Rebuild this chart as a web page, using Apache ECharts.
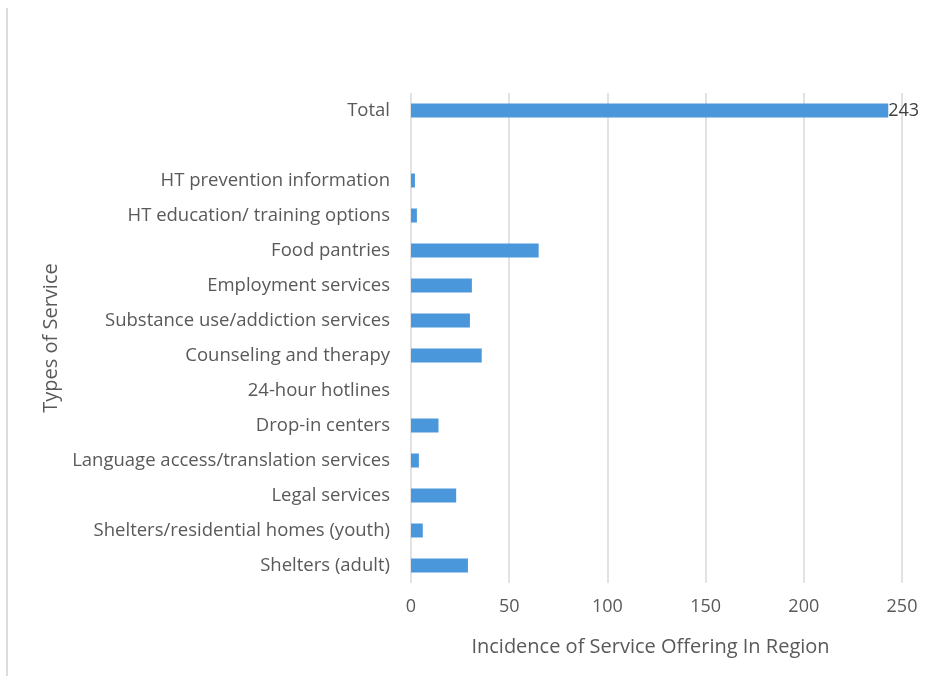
<!DOCTYPE html>
<html>
<head>
<meta charset="utf-8">
<script src="https://cdn.jsdelivr.net/npm/echarts@6/dist/echarts.min.js"></script>
<style>
  html, body { margin: 0; padding: 0; background: #fff; }
  #chart { width: 939px; height: 676px; }
</style>
</head>
<body>
<div id="chart"></div>
<script>
// service types, bottom to top (blank row sits between the services and Total)
const categories = [
  'Shelters (adult)',
  'Shelters/residential homes (youth)',
  'Legal services',
  'Language access/translation services',
  'Drop-in centers',
  '24-hour hotlines',
  'Counseling and therapy',
  'Substance use/addiction services',
  'Employment services',
  'Food pantries',
  'HT education/ training options',
  'HT prevention information',
  '',
  'Total'
];
const counts = [29, 6, 23, 4, 14, 0, 36, 30, 31, 65, 3, 2, null, 243];
const xTicks = [0, 50, 100, 150, 200, 250];

const chart = echarts.init(document.getElementById('chart'));
const font = '"Open Sans", Lato, sans-serif';

chart.setOption({
  animation: false,
  textStyle: { fontFamily: font },
  graphic: [
    {
      type: 'line',
      shape: { x1: 7, y1: 8, x2: 7, y2: 676 },
      style: { stroke: '#d0d0d0', lineWidth: 1.5 }
    }
  ],
  grid: { left: 411, right: 37, top: 93, bottom: 93 },
  xAxis: {
    type: 'value',
    min: 0,
    max: 250,
    interval: 50,
    name: 'Incidence of Service Offering In Region',
    nameLocation: 'middle',
    nameGap: 54,
    nameTextStyle: { fontSize: 20, color: '#595959', fontFamily: font, padding: [0, 12, 0, 0] },
    axisLine: { show: false },
    axisTick: { show: false },
    axisLabel: {
      fontSize: 18, color: '#595959', margin: 15, fontFamily: font,
      formatter: v => xTicks.indexOf(v) >= 0 ? String(v) : ''
    },
    splitLine: { lineStyle: { color: '#d9d9d9', width: 1.5 } }
  },
  yAxis: {
    type: 'category',
    data: categories,
    name: 'Types of Service',
    nameLocation: 'middle',
    nameGap: 347,
    nameRotate: 90,
    nameTextStyle: { fontSize: 20, color: '#595959', fontFamily: font },
    axisLine: { show: false },
    axisTick: { show: false },
    axisLabel: { fontSize: 18.5, color: '#595959', margin: 21, fontFamily: font },
    splitLine: { show: false }
  },
  series: [
    {
      type: 'bar',
      data: counts,
      barCategoryGap: '60%',
      itemStyle: { color: '#4a97db' },
      label: {
        show: true,
        position: 'right',
        distance: 0,
        fontSize: 18,
        color: '#404040',
        fontFamily: font,
        formatter: p => p.dataIndex === categories.length - 1 ? String(p.value) : ''
      }
    }
  ]
});
</script>
</body>
</html>
